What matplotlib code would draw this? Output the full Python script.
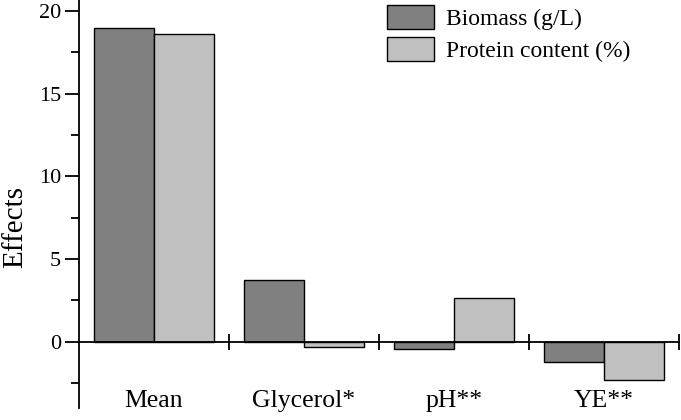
import numpy as np
import matplotlib
matplotlib.use('Agg')
import matplotlib.pyplot as plt
from matplotlib.ticker import MultipleLocator

factors = ['Mean', 'Glycerol*', 'pH**', 'YE**']
biomass = [18.95, 3.75, -0.42, -1.23]
protein = [18.6, -0.32, 2.64, -2.31]
series_names = ['Biomass (g/L)', 'Protein content (%)']

plt.rcParams['font.family'] = ['Liberation Serif', 'DejaVu Serif']

fig = plt.figure(figsize=(6.81, 4.2), dpi=100)
ax = fig.add_axes([0.116, 0.0285, 0.881, 0.9715])

x = np.arange(len(factors))
w = 0.4
ax.bar(x - w/2, biomass, w, color='#808080', edgecolor='black', linewidth=1.0, label=series_names[0])
ax.bar(x + w/2, protein, w, color='#c0c0c0', edgecolor='black', linewidth=1.0, label=series_names[1])

ax.set_xlim(-0.5, 3.5)
ax.set_ylim(-4.0, 20.65)

# x axis sits at zero, ticks between the groups
ax.spines['bottom'].set_position(('data', 0))
ax.spines['top'].set_visible(False)
ax.spines['right'].set_visible(False)
ax.spines['left'].set_linewidth(1.3)
ax.spines['bottom'].set_linewidth(1.3)
ax.set_xticks(x + 0.5)
ax.set_xticklabels([])
ax.tick_params(axis='x', direction='inout', length=11, width=1.3)

ax.yaxis.set_major_locator(MultipleLocator(5))
ax.yaxis.set_minor_locator(MultipleLocator(2.5))
ax.tick_params(axis='y', which='major', direction='out', length=10, width=1.3, labelsize=16, pad=3)
ax.tick_params(axis='y', which='minor', direction='out', length=6, width=1.3)

for i, name in enumerate(factors):
    ax.text(i, -3.55, name, ha='center', va='center', fontsize=18.5)

ax.set_ylabel('Effects', fontsize=21)
ax.yaxis.set_label_coords(-0.084, 0.444)

ax.legend(loc='upper left', bbox_to_anchor=(0.498, 1.01), frameon=False, fontsize=17,
          handlelength=2.0, handleheight=1.15, handletextpad=0.5, labelspacing=0.3,
          borderaxespad=0)

fig.savefig('out.png', dpi=100)
